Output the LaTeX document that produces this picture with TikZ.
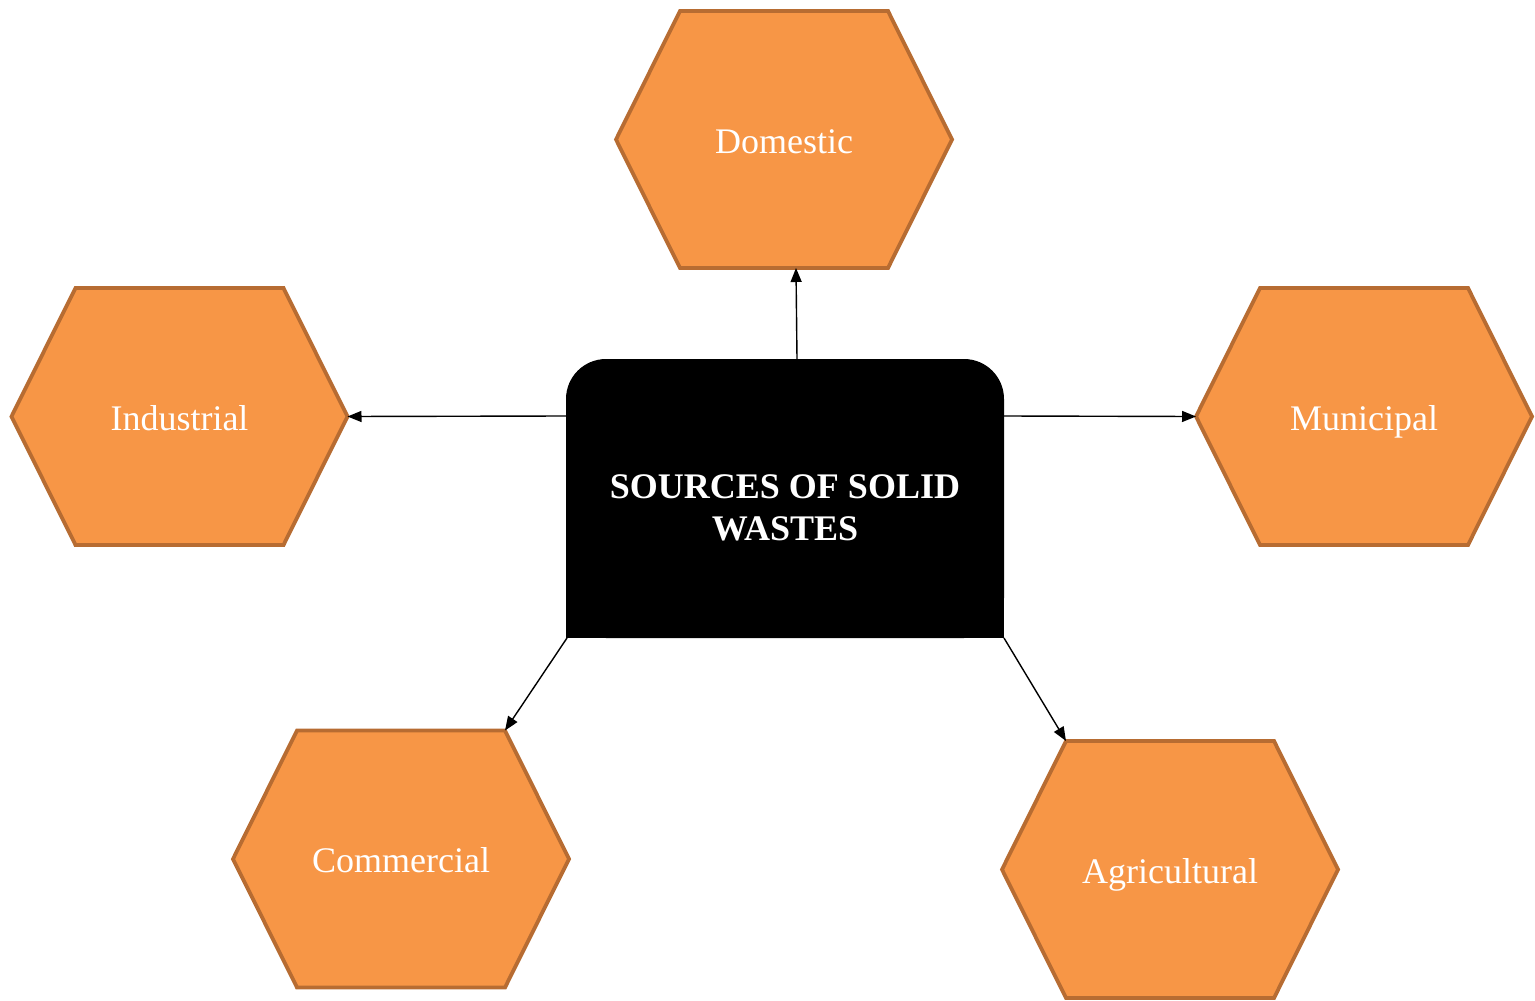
\documentclass[tikz,border=0pt]{standalone}
\usepackage{fontspec}
\setmainfont{Liberation Serif}
\usetikzlibrary{arrows.meta}
\definecolor{hexfill}{RGB}{247,150,70}
\definecolor{hexline}{RGB}{183,108,50}
\tikzset{
  hexline/.style={draw=hexline,fill=hexfill,line width=3.8pt,line join=miter},
  hexlabel/.style={text=white,font=\fontsize{36}{43}\selectfont,inner sep=0pt,anchor=base},
  arr/.style={line width=1.4pt,-{Triangle[length=14pt,width=11pt]}},
}
% #1 name, #2 cx, #3 cy, #4 text
\newcommand{\hexagonnode}[4]{%
  \draw[hexline] (#2-168,#3) -- (#2-104,#3-128.5) -- (#2+104,#3-128.5) -- (#2+168,#3)
     -- (#2+104,#3+128.5) -- (#2-104,#3+128.5) -- cycle;
  \node[hexlabel] (#1) at (#2,#3+13.5) {#4};
  \coordinate (#1-l) at (#2-168,#3);
  \coordinate (#1-r) at (#2+168,#3);
  \coordinate (#1-tl) at (#2-104,#3-128.5);
  \coordinate (#1-tr) at (#2+104,#3-128.5);
  \coordinate (#1-b) at (#2+12,#3+128.5);
}
\begin{document}
\begin{tikzpicture}[x=1pt,y=-1pt]
\useasboundingbox (0,0) rectangle (1535,1001);
\hexagonnode{dom}{784}{139.5}{Domestic}
\hexagonnode{ind}{179.5}{416.5}{Industrial}
\hexagonnode{mun}{1364}{416.5}{Municipal}
\hexagonnode{com}{401}{859}{Commercial}
\hexagonnode{agr}{1170}{869.5}{Agricultural}
% central box
\fill[black,rounded corners=40pt] (566,638) -- (566,359) -- (1004,359) -- (1004,638) -- cycle;
\fill[black] (566,500) rectangle (1004,638);
\node[text=white,font=\bfseries\fontsize{36}{42}\selectfont,align=center,inner sep=0pt] (src) at (785,508) {SOURCES OF SOLID\\WASTES};
\coordinate (src-t) at (797,359);
\coordinate (src-l) at (566,416);
\coordinate (src-r) at (1004,416);
\coordinate (src-bl) at (567,638);
\coordinate (src-br) at (1004,638);
\draw[arr] (src-t) -- (dom-b);
\draw[arr] (src-l) -- (ind-r);
\draw[arr] (src-r) -- (mun-l);
\draw[arr] (src-bl) -- (com-tr);
\draw[arr] (src-br) -- (agr-tl);
\end{tikzpicture}
\end{document}
